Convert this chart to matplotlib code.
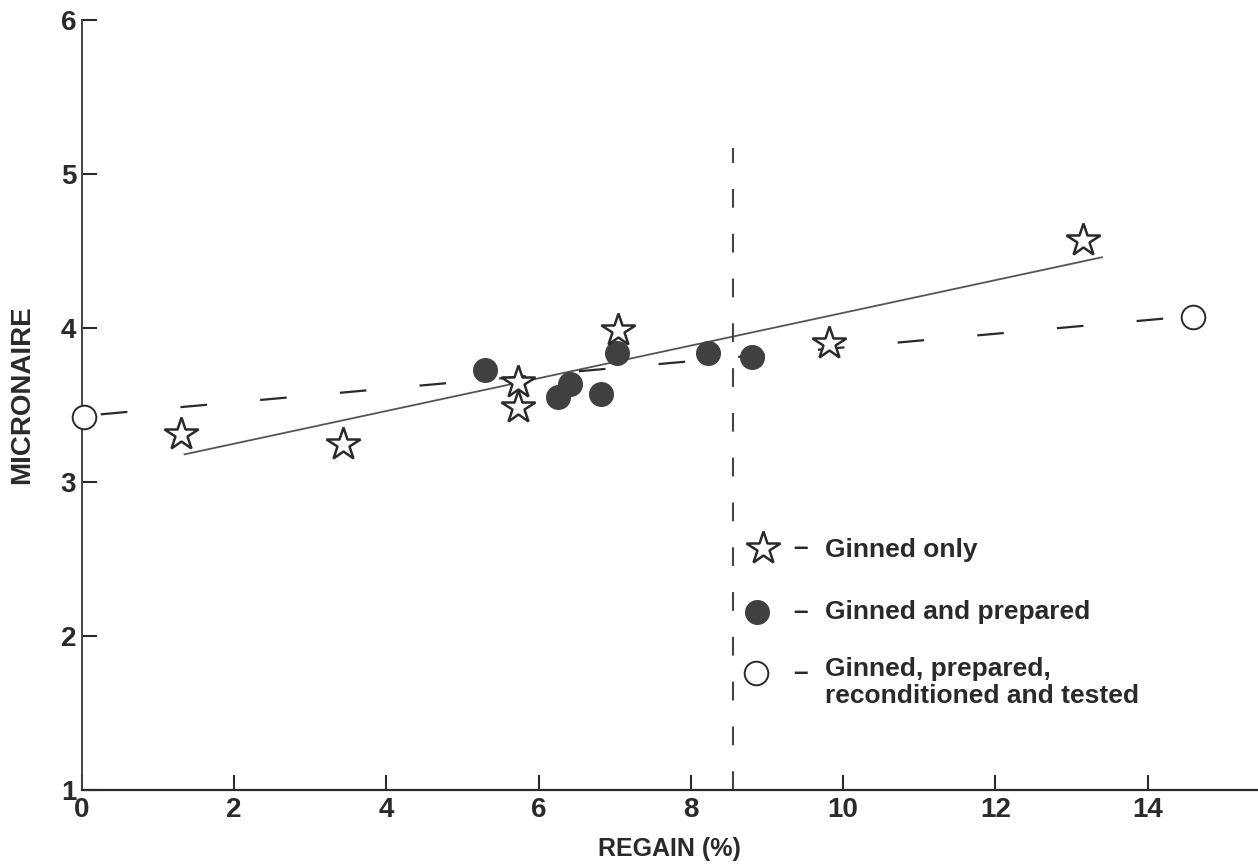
import matplotlib
matplotlib.use("Agg")
import matplotlib.pyplot as plt

plt.rcParams['font.family'] = ['Liberation Sans', 'DejaVu Sans']

# --- data ---
ginned_x = [1.30, 3.43, 5.73, 5.73, 7.04, 9.82, 13.15]
ginned_y = [3.31, 3.25, 3.65, 3.49, 3.99, 3.90, 4.57]

prepared_x = [5.29, 6.26, 6.41, 6.82, 7.03, 8.22, 8.81]
prepared_y = [3.73, 3.55, 3.64, 3.57, 3.84, 3.84, 3.81]

tested_x = [0.03, 14.59]
tested_y = [3.42, 4.07]

fit_solid_x = [1.35, 13.40]
fit_solid_y = [3.18, 4.46]

fit_dashed_x = [0.25, 14.40]
fit_dashed_y = [3.44, 4.07]

vline_x = 8.55
vline_top = 5.17

xticks = [0, 2, 4, 6, 8, 10, 12, 14]
yticks = [1, 2, 3, 4, 5, 6]

legend_labels = ["Ginned only", "Ginned and prepared",
                 "Ginned, prepared,\nreconditioned and tested"]

# --- figure ---
fig = plt.figure(figsize=(12.58, 8.65), dpi=100)
ax = fig.add_axes([0.065, 0.0867, 0.935, 0.890])
ax.set_xlim(0, 15.45)
ax.set_ylim(1, 6)

ink = '#2a2a2a'

# lines
ax.plot(fit_solid_x, fit_solid_y, color='#555555', lw=1.3, zorder=2)
ax.plot(fit_dashed_x, fit_dashed_y, color=ink, lw=1.6, dashes=(12, 24), zorder=2)
ax.plot([vline_x, vline_x], [1, vline_top], color='#444444', lw=1.5,
        dashes=(9, 12.5), zorder=2)

# markers
ax.plot(prepared_x, prepared_y, 'o', ms=17, mfc='#404040', mec='#404040', zorder=3)
ax.plot(ginned_x, ginned_y, '*', ms=25, mfc='white', mec=ink, mew=1.8, zorder=4)
ax.plot(tested_x, tested_y, 'o', ms=17, mfc='white', mec=ink, mew=1.4, zorder=4,
        clip_on=False)

# spines / ticks
for s in ['top', 'right']:
    ax.spines[s].set_visible(False)
ax.spines['left'].set_color('#444444')
ax.spines['left'].set_linewidth(1.4)
ax.spines['bottom'].set_color(ink)
ax.spines['bottom'].set_linewidth(1.6)

ax.set_xticks(xticks)
ax.set_yticks(yticks)
ax.tick_params(direction='in', length=11, width=1.5, colors=ink,
               labelsize=20, labelcolor=ink)
ax.tick_params(axis='x', pad=5)
ax.tick_params(axis='y', pad=4)
for lab in ax.get_xticklabels() + ax.get_yticklabels():
    lab.set_fontweight('bold')

ax.set_xlabel("REGAIN (%)", fontsize=18, fontweight='bold', color=ink, labelpad=10)
ax.set_ylabel("MICRONAIRE", fontsize=20, fontweight='bold', color=ink)
ax.yaxis.set_label_coords(-0.040, 0.513)

# legend (manual)
T = ax.transAxes
rows_y = [0.312, 0.231, 0.140]
mk_y = [0.314, 0.231, 0.152]
mk_x = [0.579, 0.574, 0.573]
ax.plot([mk_x[0]], [mk_y[0]], '*', ms=25, mfc='white', mec=ink, mew=1.8, transform=T)
ax.plot([mk_x[1]], [mk_y[1]], 'o', ms=17, mfc='#404040', mec='#404040', transform=T)
ax.plot([mk_x[2]], [mk_y[2]], 'o', ms=17, mfc='white', mec=ink, mew=1.4, transform=T)
for i, lab in enumerate(legend_labels):
    ax.text(0.611, mk_y[i], "–", transform=T, fontsize=19,
            fontweight='bold', color=ink, ha='center', va='center')
    ax.text(0.632, rows_y[i], lab, transform=T, fontsize=19, fontweight='bold',
            color=ink, ha='left', va='center', linespacing=1.15)

fig.savefig("out.png", dpi=100)
